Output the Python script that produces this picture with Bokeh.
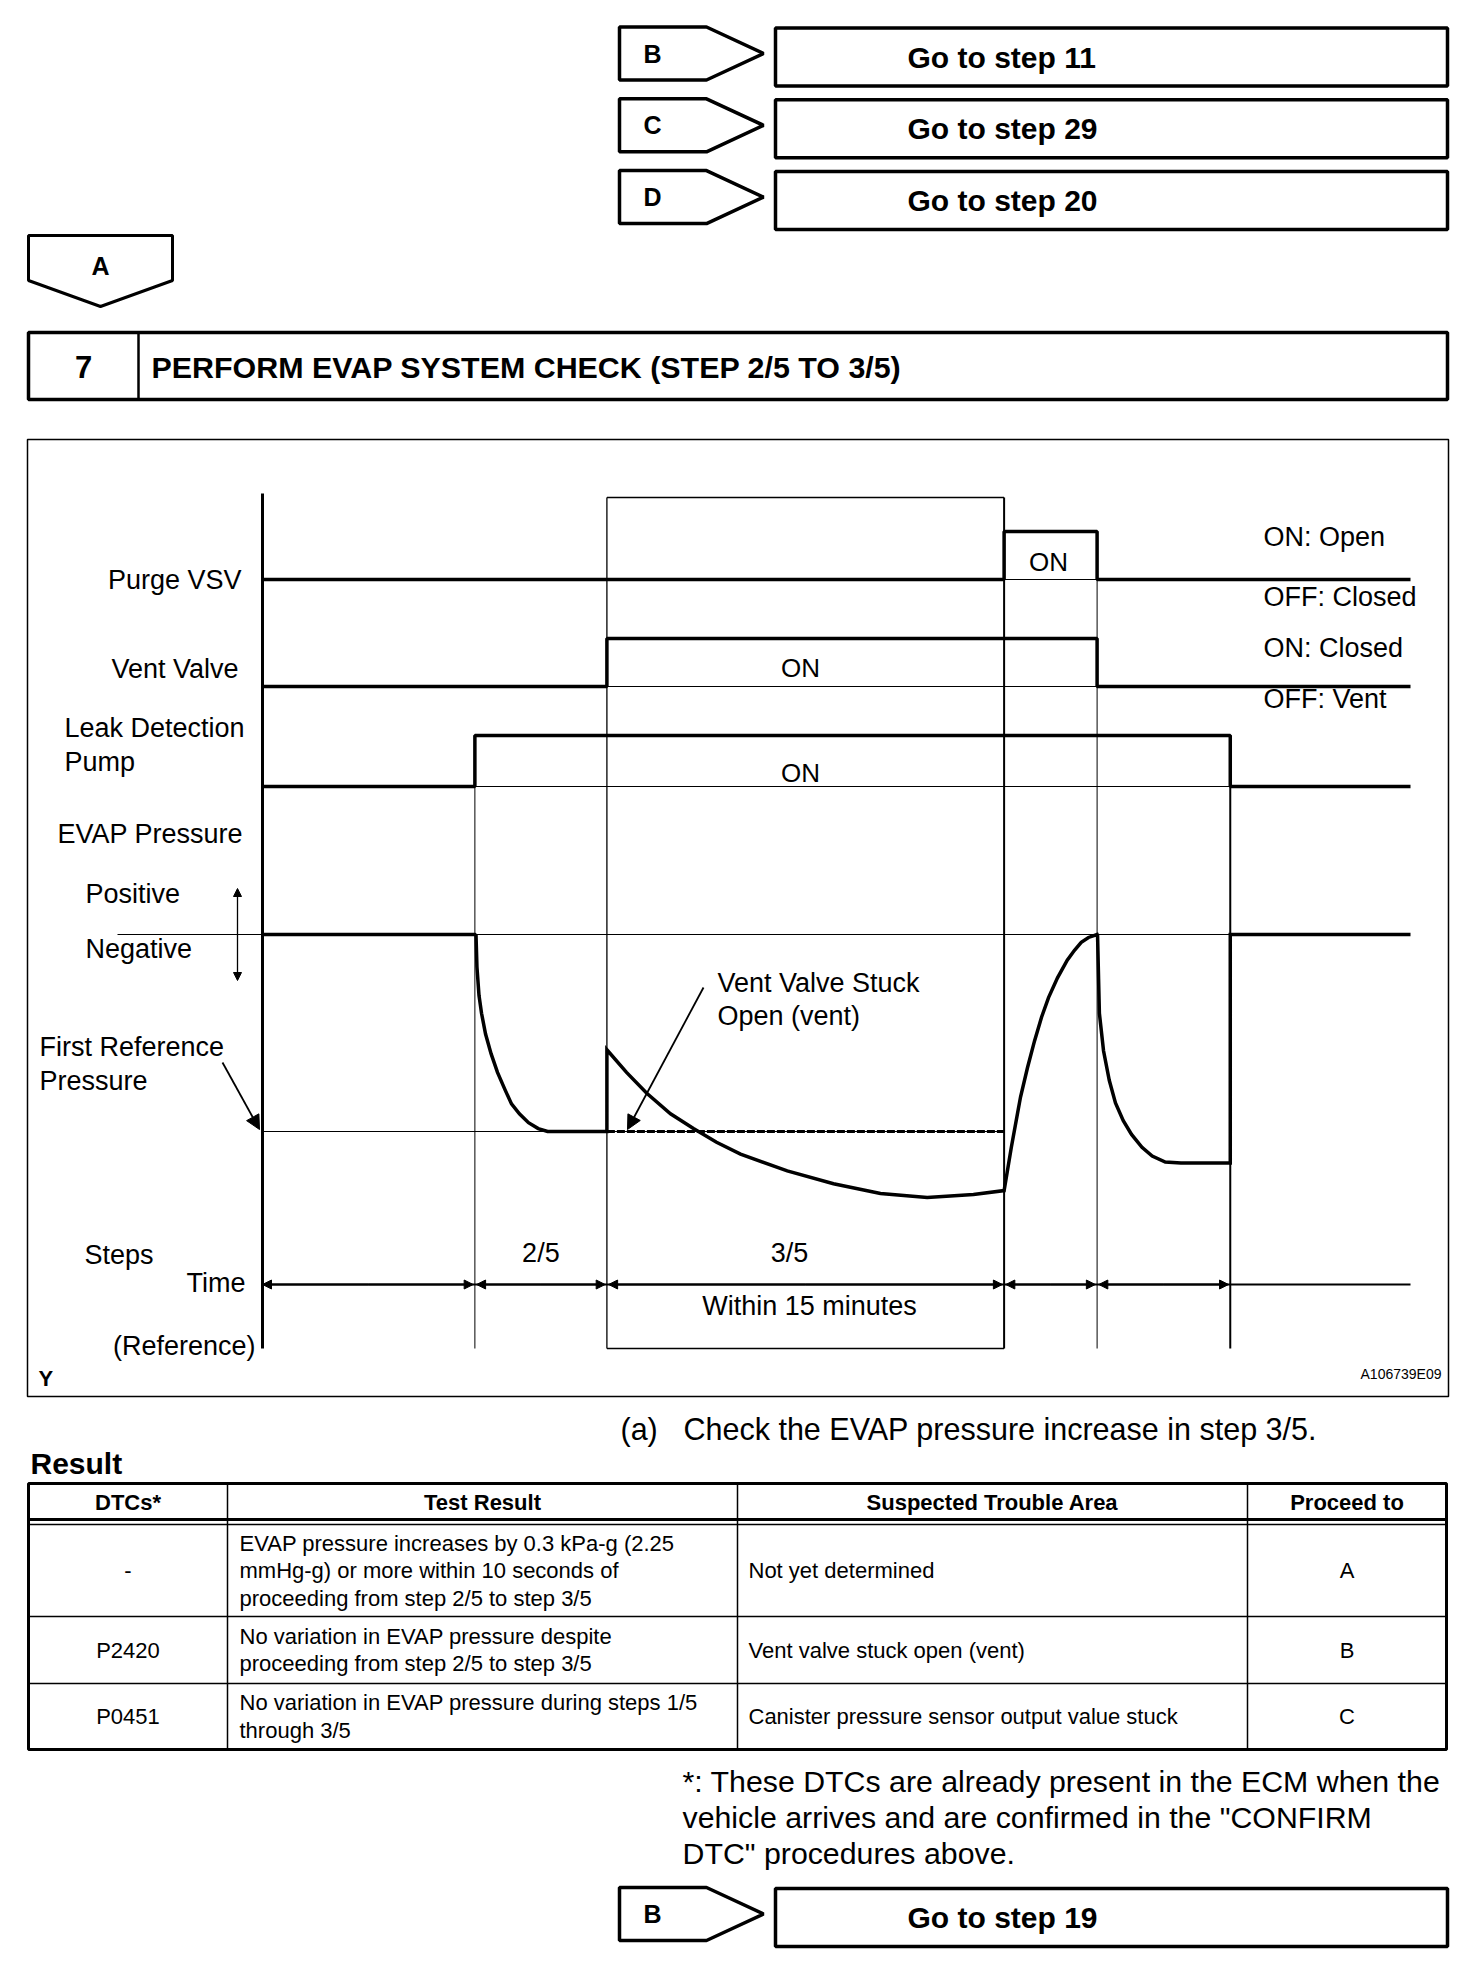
from bokeh.plotting import figure
from bokeh.models import Range1d, Arrow, NormalHead
from bokeh.core.properties import value
from bokeh.embed import file_html
from bokeh.resources import INLINE

FONT = value("Liberation Sans")

# ------------------------------------------------------------------ data
nav_letters_top = ["B", "C", "D"]
nav_targets_top = ["Go to step 11", "Go to step 29", "Go to step 20"]
nav_letter_bottom = "B"
nav_target_bottom = "Go to step 19"
continue_letter = "A"
step_number = "7"
step_title = "PERFORM EVAP SYSTEM CHECK (STEP 2/5 TO 3/5)"

# time in arbitrary units: 0 = start of chart, 100 = right end of traces
event_times = [0, 18.5, 30.0, 64.6, 72.7, 84.3]
t_end = 100
purge_on = [64.6, 72.7]
vent_on = [30.0, 72.7]
pump_on = [18.5, 84.3]
signal_labels = ["Purge VSV", "Vent Valve"]
pump_label = ["Leak Detection", "Pump"]
purge_states = ["ON: Open", "OFF: Closed"]
vent_states = ["ON: Closed", "OFF: Vent"]
step_names = ["2/5", "3/5"]
step_duration = "Within 15 minutes"

# EVAP pressure (arbitrary units, 0 = atmospheric, -2 = first reference)
press_t = [0, 18.5, 18.6, 18.68, 18.86, 19.08, 19.43, 19.91, 20.47, 21.14,
           21.69, 22.38, 23.17, 24.02, 24.83, 30.0, 30.0, 31.71, 33.45, 35.54,
           37.54, 39.55, 41.64, 45.71, 49.74, 53.83, 57.9, 61.93, 64.6, 65.23,
           66.03, 66.64, 67.25, 67.86, 68.47, 69.25, 70.1, 70.73, 71.32, 71.95,
           72.7, 72.74, 72.9, 73.26, 73.76, 74.3, 74.98, 75.7, 76.61, 77.5,
           78.64, 80.0, 84.3, 84.3, 100]
press_p = [0, 0, -0.01, -0.33, -0.62, -0.80, -1.01, -1.21, -1.40, -1.58,
           -1.72, -1.82, -1.91, -1.97, -2.0, -2.0, -1.17, -1.40, -1.61, -1.82,
           -1.97, -2.11, -2.23, -2.40, -2.53, -2.63, -2.67, -2.64, -2.60, -2.16,
           -1.65, -1.35, -1.08, -0.84, -0.64, -0.44, -0.26, -0.16, -0.08, -0.03,
           0, -0.01, -0.80, -1.18, -1.48, -1.71, -1.89, -2.03, -2.16, -2.25,
           -2.31, -2.32, -2.32, 0, 0]
atm_pressure = 0.0
first_ref_pressure = -2.0
stuck_open_t = [30.0, 64.6]

check_prefix = "(a)"
check_text = "Check the EVAP pressure increase in step 3/5."
result_title = "Result"
table_headers = ["DTCs*", "Test Result", "Suspected Trouble Area", "Proceed to"]
table_dtcs = ["-", "P2420", "P0451"]
table_results = [
    ["EVAP pressure increases by 0.3 kPa-g (2.25",
     "mmHg-g) or more within 10 seconds of",
     "proceeding from step 2/5 to step 3/5"],
    ["No variation in EVAP pressure despite",
     "proceeding from step 2/5 to step 3/5"],
    ["No variation in EVAP pressure during steps 1/5",
     "through 3/5"],
]
table_areas = ["Not yet determined", "Vent valve stuck open (vent)",
               "Canister pressure sensor output value stuck"]
table_proceed = ["A", "B", "C"]
footnote = ["*: These DTCs are already present in the ECM when the",
            "vehicle arrives and are confirmed in the \"CONFIRM",
            "DTC\" procedures above."]
figure_code = "A106739E09"

# ------------------------------------------------------------------ layout
W, H = 1456, 1954
X0, Y0 = 0, 0
p = figure(width=W, height=H, x_range=Range1d(X0, X0 + W),
           y_range=Range1d(Y0 + H, Y0), output_backend="svg",
           toolbar_location=None, min_border=0)
p.axis.visible = False
p.grid.visible = False
p.outline_line_color = None
p.background_fill_color = "white"

# time axis mapping: t=0 at px 262, t=100 at px 1410
TX0, TX100 = 262.0, 1410.0
def t_of(px):
    return (px - TX0) / (TX100 - TX0) * t_end
# pressure mapping: 0 at px 934, -2 at px 1131
PY0, PYREF = 934.0, 1131.0
def p_of(py):
    return (py - PY0) / (PYREF - PY0) * first_ref_pressure
p.extra_x_ranges = {"time": Range1d(t_of(X0), t_of(X0 + W))}
p.extra_y_ranges = {"pres": Range1d(p_of(Y0 + H), p_of(Y0))}

def txt(x, y, s, size, align="left", bold=False, **kw):
    p.text(x=[x], y=[y], text=[s], text_font=FONT, text_font_size=f"{size}px",
           text_align=align, text_baseline="middle", text_color="black",
           text_font_style="bold" if bold else "normal", **kw)

def nav_row(top, letter, target):
    ph = 53
    p.patch([619, 706, 763, 706, 619], [top, top, top + ph / 2, top + ph, top + ph],
            fill_color="white", line_color="black", line_width=3.5)
    txt(643, top + ph / 2, letter, 25, bold=True)
    p.quad(left=[775], right=[1447], top=[top + 1], bottom=[top + 59],
           fill_color=None, line_color="black", line_width=3.5)
    txt(907, top + 30, target, 30, bold=True)

for i, (l, t) in enumerate(zip(nav_letters_top, nav_targets_top)):
    nav_row(26.5 + i * 71.8, l, t)
nav_row(1887, nav_letter_bottom, nav_target_bottom)

# continue arrow "A"
p.patch([28, 172, 172, 100, 28], [235, 235, 280, 306, 280],
        fill_color="white", line_color="black", line_width=3)
txt(100, 265, continue_letter, 25, align="center", bold=True)

# step header
p.quad(left=[28], right=[1447], top=[332], bottom=[399], fill_color=None,
       line_color="black", line_width=3.5)
p.segment(x0=[138], y0=[332], x1=[138], y1=[399], line_color="black", line_width=2.5)
txt(83, 366, step_number, 31, align="center", bold=True)
txt(151, 366, step_title, 30.4, bold=True)

# diagram frame
p.quad(left=[27], right=[1448], top=[439], bottom=[1396], fill_color=None,
       line_color="black", line_width=1.5)

TR = dict(x_range_name="time")
TP = dict(x_range_name="time", y_range_name="pres")

# vertical guide lines
t1, t2, t3, t4, t5 = event_times[1:]
vx = [event_times[0], t1, t2, t3, t4, t5]
vtop = [493, 735, 497, 497, 531, 735]
vw = [3, 1, 1.3, 2, 1, 2]
for x, yt, w in zip(vx, vtop, vw):
    p.segment(x0=[x], y0=[yt], x1=[x], y1=[1348], line_color="black",
              line_width=w, **TR)
p.segment(x0=[t2, t2], y0=[497, 1348], x1=[t3, t3], y1=[497, 1348],
          line_color="black", line_width=1.3, **TR)

# binary signals
lanes = [(579, 531, purge_on), (686, 638, vent_on), (786, 735, pump_on)]
for low, high, (a, b) in lanes:
    p.line([a, b], [low, low], line_color="black", line_width=1, **TR)
    p.line([0, a, a, b, b, t_end], [low, low, high, high, low, low],
           line_color="black", line_width=3.5, **TR)
txt(1048, 561, "ON", 26, align="center")
txt(800, 667, "ON", 26, align="center")
txt(800, 772, "ON", 26, align="center")

txt(241, 579, signal_labels[0], 27, align="right")
txt(238, 668, signal_labels[1], 27, align="right")
txt(64, 727, pump_label[0], 27)
txt(64, 761, pump_label[1], 27)
txt(57, 833, "EVAP Pressure", 27)
txt(85, 893, "Positive", 27)
txt(85, 948, "Negative", 27)
txt(39, 1046, "First Reference", 27)
txt(39, 1080, "Pressure", 27)
for i, s in enumerate(purge_states):
    txt(1263, 536 + i * 60, s, 27)
for i, s in enumerate(vent_states):
    txt(1263, 647 + i * 51, s, 27)

# pressure traces
p.line([t_of(117), t5], [atm_pressure, atm_pressure], line_color="black",
       line_width=1, **TP)
p.line([0, t3], [first_ref_pressure, first_ref_pressure], line_color="black",
       line_width=1, **TP)
p.line(stuck_open_t, [first_ref_pressure] * 2, line_color="black",
       line_width=3, line_dash="8 2", **TP)
p.line(press_t, press_p, line_color="black", line_width=3.5,
       line_join="miter", **TP)

# annotation arrows
p.add_layout(Arrow(end=NormalHead(size=8, fill_color="black", line_color="black"),
                   x_start=237, y_start=934, x_end=237, y_end=888,
                   line_width=1.3))
p.add_layout(Arrow(end=NormalHead(size=8, fill_color="black", line_color="black"),
                   x_start=237, y_start=934, x_end=237, y_end=980,
                   line_width=1.3))
p.add_layout(Arrow(end=NormalHead(size=14, fill_color="black", line_color="black"),
                   x_start=222, y_start=1062, x_end=259, y_end=1129,
                   line_width=1.8))
p.add_layout(Arrow(end=NormalHead(size=14, fill_color="black", line_color="black"),
                   x_start=703, y_start=987, x_end=627, y_end=1129,
                   line_width=1.8))
txt(717, 982, "Vent Valve Stuck", 27)
txt(717, 1015, "Open (vent)", 27)

# time axis with dimension arrows
TY = 1284
p.line([0, t_end], [TY, TY], line_color="black", line_width=2, **TR)
gap = 0.15
for a, b in zip(event_times[:-1], event_times[1:]):
    mid = (a + b) / 2
    for tip in (a + (gap if a > 0 else 0), b - gap):
        p.add_layout(Arrow(end=NormalHead(size=9, fill_color="black", line_color="black"),
                           x_start=mid, y_start=TY, x_end=tip, y_end=TY,
                           line_width=2, **TR))
txt(84, 1254, "Steps", 27)
txt(245, 1282, "Time", 27, align="right")
txt(255, 1345, "(Reference)", 27, align="right")
p.text(x=[(t1 + t2) / 2, (t2 + t3) / 2 - 1.4], y=[1252, 1252], text=step_names,
       text_font=FONT, text_font_size="27px", text_align="center",
       text_baseline="middle", **TR)
txt(809, 1305, step_duration, 27, align="center")
txt(38, 1378, "Y", 22, bold=True)
txt(1441, 1373, figure_code, 14, align="right")

# check text
txt(620, 1428, check_prefix, 30.5)
txt(683, 1428, check_text, 30.5)
txt(30, 1463, result_title, 30, bold=True)

# result table
cx = [28, 227, 737, 1247, 1446]
ry = [1483, 1524, 1616, 1683, 1749]
p.quad(left=[cx[0]], right=[cx[-1]], top=[ry[0]], bottom=[ry[-1]],
       fill_color=None, line_color="black", line_width=3)
p.segment(x0=cx[1:4], y0=[ry[0]] * 3, x1=cx[1:4], y1=[ry[-1]] * 3,
          line_color="black", line_width=1.5)
p.segment(x0=[cx[0]], y0=[1519], x1=[cx[-1]], y1=[1519], line_color="black", line_width=3)
p.segment(x0=[cx[0]] * 3, y0=ry[1:4], x1=[cx[-1]] * 3, y1=ry[1:4],
          line_color="black", line_width=1.5)
for i, h in enumerate(table_headers):
    txt((cx[i] + cx[i + 1]) / 2, 1502, h, 22, align="center", bold=True)
line_h = 27.5
for r in range(3):
    yc = (ry[r + 1] + ry[r + 2]) / 2
    txt((cx[0] + cx[1]) / 2, yc, table_dtcs[r], 22, align="center")
    lines = table_results[r]
    y_first = yc - (len(lines) - 1) * line_h / 2
    for k, s in enumerate(lines):
        txt(239, y_first + k * line_h, s, 22)
    txt(748, yc, table_areas[r], 22)
    txt((cx[3] + cx[4]) / 2, yc, table_proceed[r], 22, align="center")

for k, s in enumerate(footnote):
    txt(682, 1781 + k * 36, s, 30.3)

open("out.html", "w").write(file_html(p, INLINE))
